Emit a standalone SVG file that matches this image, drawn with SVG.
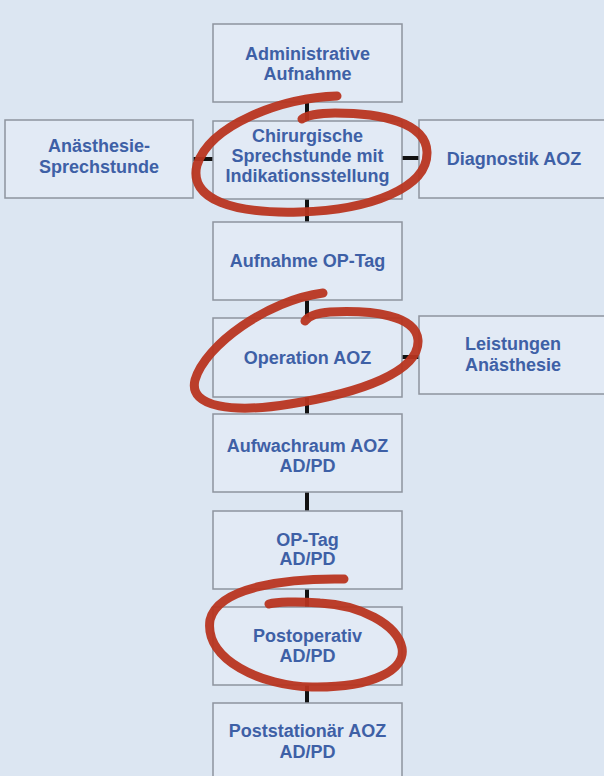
<svg xmlns="http://www.w3.org/2000/svg" width="604" height="776" viewBox="0 0 604 776">
<style>
.box{fill:#e2eaf5;stroke:#8d949e;stroke-width:1.5}
.t{font-family:"Liberation Sans",Arial,sans-serif;font-weight:bold;font-size:18px;fill:#3e60a6;text-anchor:middle}
.c{stroke:#111;stroke-width:4;fill:none}
.r{stroke:#b83520;stroke-width:9;fill:none;stroke-linecap:round;stroke-linejoin:round;opacity:0.95}
</style>
<rect width="604" height="776" fill="#dce6f2"/>
<g id="connectors">
<line class="c" x1="307" y1="102" x2="307" y2="121"/>
<line class="c" x1="307" y1="198" x2="307" y2="222"/>
<line class="c" x1="307" y1="300" x2="307" y2="318"/>
<line class="c" x1="307" y1="397" x2="307" y2="414"/>
<line class="c" x1="307" y1="492" x2="307" y2="511"/>
<line class="c" x1="307" y1="589" x2="307" y2="607"/>
<line class="c" x1="307" y1="685" x2="307" y2="703"/>
<line class="c" x1="193" y1="159" x2="213" y2="159"/>
<line class="c" x1="402" y1="158" x2="419" y2="158"/>
<line class="c" x1="402" y1="357" x2="419" y2="357"/>
</g>
<g id="n1"><rect class="box" x="213" y="24" width="189" height="78"/><text class="t" x="307.5" y="60">Administrative</text><text class="t" x="307.5" y="80">Aufnahme</text></g>
<g id="n2"><rect class="box" x="5" y="120" width="188" height="78"/><text class="t" x="99" y="152">Anästhesie-</text><text class="t" x="99" y="173">Sprechstunde</text></g>
<g id="n3"><rect class="box" x="213" y="121" width="189" height="78"/><text class="t" x="307.5" y="142">Chirurgische</text><text class="t" x="307.5" y="162">Sprechstunde mit</text><text class="t" x="307.5" y="182">Indikationsstellung</text></g>
<g id="n4"><rect class="box" x="419" y="120" width="186" height="78"/><text class="t" x="514" y="165">Diagnostik AOZ</text></g>
<g id="n5"><rect class="box" x="213" y="222" width="189" height="78"/><text class="t" x="307.5" y="267">Aufnahme OP-Tag</text></g>
<g id="n6"><rect class="box" x="213" y="318" width="189" height="79"/><text class="t" x="307.5" y="364">Operation AOZ</text></g>
<g id="n7"><rect class="box" x="419" y="316" width="186" height="78"/><text class="t" x="513" y="350">Leistungen</text><text class="t" x="513" y="371">Anästhesie</text></g>
<g id="n8"><rect class="box" x="213" y="414" width="189" height="78"/><text class="t" x="307.5" y="452">Aufwachraum AOZ</text><text class="t" x="307.5" y="472">AD/PD</text></g>
<g id="n9"><rect class="box" x="213" y="511" width="189" height="78"/><text class="t" x="307.5" y="546">OP-Tag</text><text class="t" x="307.5" y="565">AD/PD</text></g>
<g id="n10"><rect class="box" x="213" y="607" width="189" height="78"/><text class="t" x="307.5" y="642">Postoperativ</text><text class="t" x="307.5" y="662">AD/PD</text></g>
<g id="n11"><rect class="box" x="213" y="703" width="189" height="80"/><text class="t" x="307.5" y="737">Poststationär AOZ</text><text class="t" x="307.5" y="758">AD/PD</text></g>
<g id="marks">
<path class="r" d="M337,96 C280,98 210,125 197,165 C188,200 235,214 300,212 C370,210 428,188 427,152 C426,122 380,113 335,113 C318,113 306,116 302,119"/>
<path class="r" d="M323,293 C268,300 205,345 195,380 C188,408 235,413 290,404 C360,393 420,372 418,340 C416,315 372,310 330,312 C315,313 308,317 305,321"/>
<path class="r" d="M344,579 C290,578 218,586 210,620 C204,660 262,686 312,687 C372,688 406,670 402,648 C397,624 360,605 320,603 C296,601 276,602 269,604"/>
</g>
</svg>
